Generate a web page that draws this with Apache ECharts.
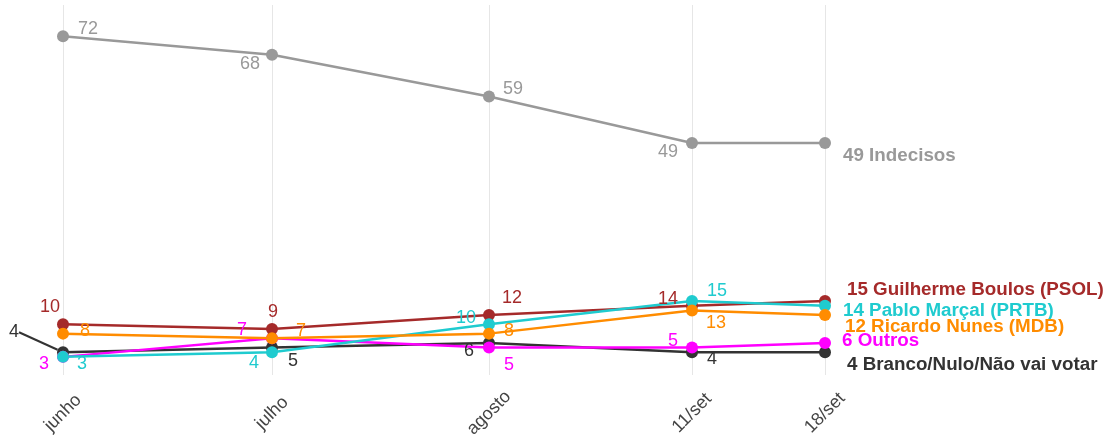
<!DOCTYPE html>
<html>
<head>
<meta charset="utf-8">
<script src="https://cdn.jsdelivr.net/npm/echarts@6/dist/echarts.min.js"></script>
<style>
  html, body { margin: 0; padding: 0; background: #fff; }
  #chart { width: 1108px; height: 437px; }
</style>
</head>
<body>
<div id="chart"></div>
<script>
'use strict'
// survey rounds (x positions follow the uneven spacing of the original)
var xLabels = ['junho', 'julho', 'agosto', '11/set', '18/set']
var xPos = [0, 209, 426, 629, 762]

var indecisos = [72, 68, 59, 49, 49]
var boulos = [10, 9, 12, 14, 15]
var marcal = [3, 4, 10, 15, 14]
var nunes = [8, 7, 8, 13, 12]
var outros = [3, 7, 5, 5, 6]
var branco = [4, 5, 6, 4, 4]

var FONT = 'Liberation Sans, Arial, sans-serif'

// label placement per point (offset from the dot centre), last one is the name label
var lines = [
  { name: 'Indecisos', values: indecisos, color: '#999999',
    offsets: [[25, -7], [-22, 9], [24, -8], [-24, 9]], end: [12, 13] },
  { name: 'Branco/Nulo/Não vai votar', values: branco, color: '#333333',
    offsets: [[-49, -20], [21, 13], [-20, 8], [20, 7]], end: [16, 13] },
  { name: 'Outros', values: outros, color: '#ff00ff',
    offsets: [[-19, 7], [-30, -8], [20, 17], [-19, -7]], end: [11, -2] },
  { name: 'Guilherme Boulos (PSOL)', values: boulos, color: '#a52a2a',
    offsets: [[-13, -17], [1, -17], [23, -17], [-24, -7]], end: [16, -11] },
  { name: 'Pablo Marçal (PRTB)', values: marcal, color: '#1fcbcf',
    offsets: [[19, 7], [-18, 11], [-23, -6], [25, -10]], end: [12, 5] },
  { name: 'Ricardo Nunes (MDB)', values: nunes, color: '#ff8c00',
    offsets: [[22, -3], [29, -7], [20, -3], [24, 13]], end: [14, 12] }
]

var chart = echarts.init(document.getElementById('chart'))

var series = lines.map(function(l) {
  var last = l.values.length - 1
  var useLayout = l.values === branco
  var data = l.values.map(function(v, i) {
    var item = { value: [xPos[i], v] }
    if (i === last) {
      item.label = {
        position: 'right',
        distance: 0,
        fontSize: 18.8,
        fontWeight: 'bold',
        formatter: v + ' ' + l.name
      }
      if (!useLayout) item.label.offset = l.end
    } else {
      item.label = { position: 'inside' }
      if (!useLayout) item.label.offset = l.offsets[i]
    }
    return item
  })
  var s = {
    name: l.name,
    type: 'line',
    data: data,
    symbol: 'circle',
    symbolSize: 12,
    color: l.color,
    lineStyle: { width: 2.5, color: l.color },
    itemStyle: { color: l.color },
    label: {
      show: true,
      color: l.color,
      fontSize: 18,
      fontFamily: FONT,
      formatter: '{@[1]}'
    },
    emphasis: { disabled: true },
    animation: false
  }
  if (useLayout) {
    // first label was pushed away, with a guide line back to its point
    data[0].labelLine = { show: true, lineStyle: { color: l.color, width: 2 } }
    s.labelLayout = function(p) {
      var o = p.dataIndex === last ? l.end : l.offsets[p.dataIndex]
      return { dx: o[0], dy: o[1] }
    }
  }
  return s
})

chart.setOption({
  backgroundColor: '#ffffff',
  grid: { left: 63, right: 283, top: 5, bottom: 62, outerBoundsMode: 'none' },
  xAxis: {
    type: 'value',
    min: 0,
    max: 762,
    axisLine: { show: false },
    axisTick: { show: false, customValues: xPos },
    splitLine: { show: true, lineStyle: { color: '#e6e6e6', width: 1 } },
    axisLabel: {
      customValues: xPos,
      rotate: 45,
      margin: 38,
      align: 'center',
      verticalAlign: 'middle',
      fontSize: 18,
      color: '#444444',
      fontFamily: FONT,
      formatter: function(v) {
        return xLabels[xPos.indexOf(v)]
      }
    }
  },
  yAxis: {
    type: 'value',
    min: -0.9,
    max: 78.7,
    show: false,
    splitLine: { show: false }
  },
  series: series
})
</script>
</body>
</html>
